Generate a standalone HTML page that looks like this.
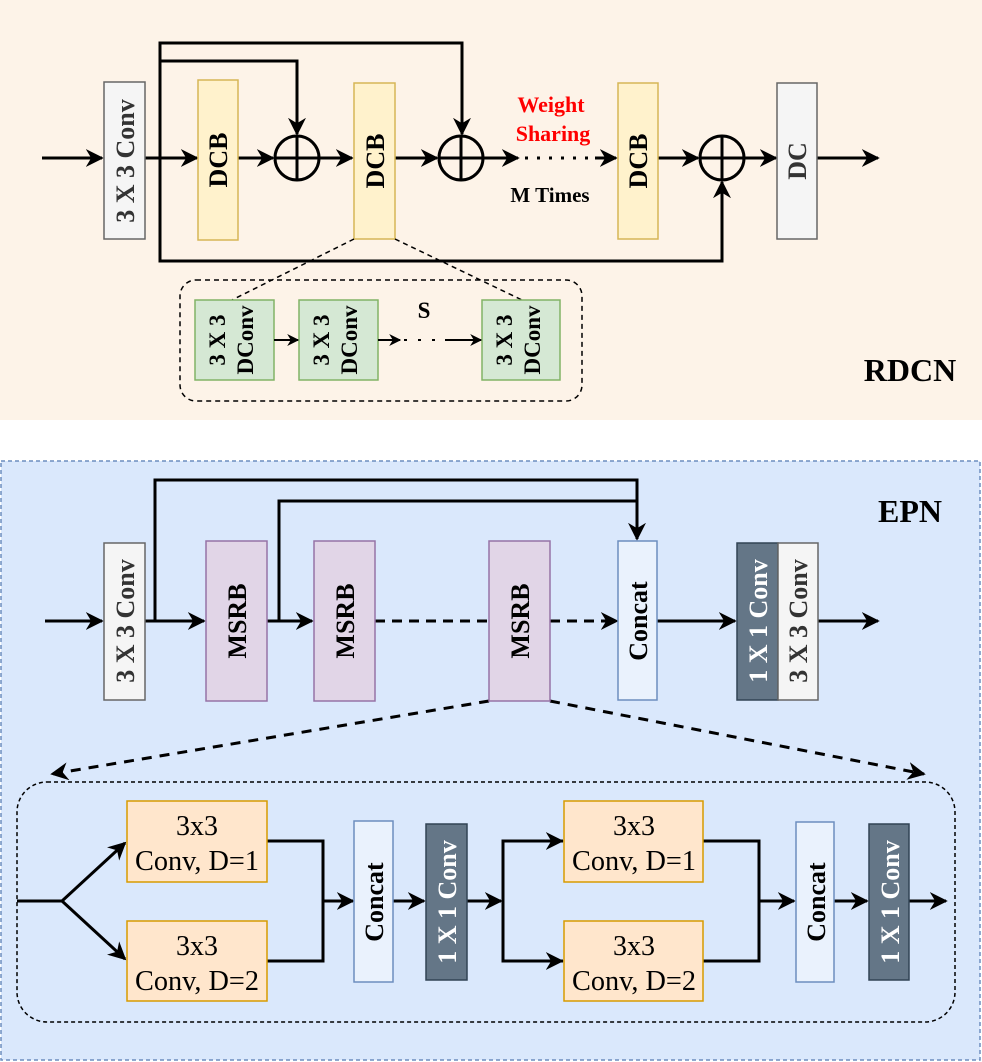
<!DOCTYPE html>
<html><head><meta charset="utf-8"><style>
html,body{margin:0;padding:0;background:#fff;}
svg{display:block;font-family:"Liberation Serif",serif;}
</style></head><body>
<svg width="982" height="1062" viewBox="0 0 982 1062" xmlns="http://www.w3.org/2000/svg">
<defs>
<marker id="s" viewBox="0 0 10 10" refX="9" refY="5" markerWidth="12" markerHeight="12" markerUnits="userSpaceOnUse" orient="auto">
<path d="M0,0 L10,5 L0,10 L3,5 Z" fill="#000"/>
</marker>
<marker id="b" viewBox="0 0 10 10" refX="9" refY="5" markerWidth="18" markerHeight="18" markerUnits="userSpaceOnUse" orient="auto">
<path d="M0,0 L10,5 L0,10 L3,5 Z" fill="#000"/>
</marker>
</defs>
<rect x="0" y="0" width="982" height="420" fill="#fdf3e8"/>
<rect x="1" y="461" width="979" height="599" fill="#dae8fc" stroke="#6c8ebf" stroke-width="1.5" stroke-dasharray="4,3"/>

<g stroke="#000" stroke-width="3" fill="none">
<line x1="42" y1="158" x2="102" y2="158" marker-end="url(#b)"/>
<line x1="145" y1="158" x2="197" y2="158" marker-end="url(#b)"/>
<line x1="238" y1="158" x2="273" y2="158" marker-end="url(#b)"/>
<line x1="319" y1="158" x2="352" y2="158" marker-end="url(#b)"/>
<line x1="395" y1="158" x2="437" y2="158" marker-end="url(#b)"/>
<line x1="483" y1="158" x2="518" y2="158" marker-end="url(#b)"/>
<line x1="525" y1="158" x2="590" y2="158" stroke-dasharray="3,9"/>
<line x1="595" y1="158" x2="616" y2="158" marker-end="url(#b)"/>
<line x1="658" y1="158" x2="698" y2="158" marker-end="url(#b)"/>
<line x1="744" y1="158" x2="776" y2="158" marker-end="url(#b)"/>
<line x1="817" y1="158" x2="878" y2="158" marker-end="url(#b)"/>
<polyline points="160,158 160,43 462,43 462,134" marker-end="url(#b)"/>
<polyline points="160,61 297,61 297,134" marker-end="url(#b)"/>
<polyline points="160,158 160,261 722,261 722,182" marker-end="url(#b)"/>
<circle cx="297" cy="158" r="22"/>
<line x1="275" y1="158" x2="319" y2="158"/><line x1="297" y1="136" x2="297" y2="180"/>
<circle cx="461" cy="158" r="22"/>
<line x1="439" y1="158" x2="483" y2="158"/><line x1="461" y1="136" x2="461" y2="180"/>
<circle cx="722" cy="158" r="22"/>
<line x1="700" y1="158" x2="744" y2="158"/><line x1="722" y1="136" x2="722" y2="180"/>
</g>
<rect x="104" y="82" width="41" height="157" fill="#f5f5f5" stroke="#666" stroke-width="1.5"/>
<rect x="198" y="80" width="40" height="160" fill="#fff2cc" stroke="#d6b656" stroke-width="1.5"/>
<rect x="354" y="83" width="41" height="156" fill="#fff2cc" stroke="#d6b656" stroke-width="1.5"/>
<rect x="618" y="83" width="40" height="156" fill="#fff2cc" stroke="#d6b656" stroke-width="1.5"/>
<rect x="777" y="83" width="40" height="156" fill="#f5f5f5" stroke="#666" stroke-width="1.5"/>
<g font-weight="bold" font-size="26" text-anchor="middle">
<text transform="translate(134,161) rotate(-90)" fill="#333">3 X 3 Conv</text>
<text transform="translate(227,160) rotate(-90)">DCB</text>
<text transform="translate(384,161) rotate(-90)">DCB</text>
<text transform="translate(647,161) rotate(-90)">DCB</text>
<text transform="translate(806,161) rotate(-90)" fill="#333">DC</text>
</g>
<text x="551" y="112" font-size="22" font-weight="bold" fill="#f00" text-anchor="middle">Weight</text>
<text x="553" y="141" font-size="22" font-weight="bold" fill="#f00" text-anchor="middle">Sharing</text>
<text x="550" y="202" font-size="21" font-weight="bold" text-anchor="middle">M Times</text>
<text x="910" y="381" font-size="32" font-weight="bold" text-anchor="middle">RDCN</text>
<g stroke="#000" stroke-width="1.5" fill="none" stroke-dasharray="5,4">
<line x1="354" y1="239" x2="232" y2="300"/>
<line x1="395" y1="239" x2="522" y2="300"/>
<rect x="180" y="280" width="402" height="121" rx="16"/>
</g>
<rect x="195" y="300" width="79" height="80" fill="#d5e8d4" stroke="#82b366" stroke-width="1.5"/>
<rect x="299" y="300" width="79" height="80" fill="#d5e8d4" stroke="#82b366" stroke-width="1.5"/>
<rect x="482" y="300" width="78" height="80" fill="#d5e8d4" stroke="#82b366" stroke-width="1.5"/>
<g stroke="#000" stroke-width="2" fill="none">
<line x1="274" y1="340" x2="298" y2="340" marker-end="url(#s)"/>
<line x1="378" y1="340" x2="400" y2="340" marker-end="url(#s)"/>
<line x1="404" y1="340" x2="446" y2="340" stroke-dasharray="3,11"/>
<line x1="445" y1="340" x2="481" y2="340" marker-end="url(#s)"/>
</g>
<g font-weight="bold" font-size="23" text-anchor="middle">
<text transform="translate(225,340) rotate(-90)">3 X 3</text>
<text transform="translate(253,340) rotate(-90)">DConv</text>
<text transform="translate(329,340) rotate(-90)">3 X 3</text>
<text transform="translate(357,340) rotate(-90)">DConv</text>
<text transform="translate(512,340) rotate(-90)">3 X 3</text>
<text transform="translate(540,340) rotate(-90)">DConv</text>
<text x="424" y="318" font-size="23">S</text>
</g>

<g stroke="#000" stroke-width="3" fill="none">
<line x1="45" y1="621" x2="102" y2="621" marker-end="url(#b)"/>
<line x1="145" y1="621" x2="204" y2="621" marker-end="url(#b)"/>
<line x1="267" y1="621" x2="312" y2="621" marker-end="url(#b)"/>
<line x1="375" y1="621" x2="489" y2="621" stroke-dasharray="10,7"/>
<line x1="550" y1="621" x2="617" y2="621" stroke-dasharray="10,7" marker-end="url(#b)"/>
<line x1="657" y1="621" x2="735" y2="621" marker-end="url(#b)"/>
<line x1="817" y1="621" x2="878" y2="621" marker-end="url(#b)"/>
<polyline points="155,621 155,480 637,480 637,539" marker-end="url(#b)"/>
<polyline points="279,621 279,501 637,501"/>
<line x1="489" y1="701" x2="52" y2="774" stroke-dasharray="10,8" marker-end="url(#b)"/>
<line x1="550" y1="701" x2="924" y2="774" stroke-dasharray="10,8" marker-end="url(#b)"/>
</g>
<rect x="104" y="543" width="41" height="157" fill="#f5f5f5" stroke="#666" stroke-width="1.5"/>
<rect x="206" y="541" width="61" height="160" fill="#e1d5e7" stroke="#9673a6" stroke-width="1.5"/>
<rect x="314" y="541" width="61" height="160" fill="#e1d5e7" stroke="#9673a6" stroke-width="1.5"/>
<rect x="489" y="541" width="61" height="160" fill="#e1d5e7" stroke="#9673a6" stroke-width="1.5"/>
<rect x="618" y="541" width="39" height="159" fill="#eaf2fd" stroke="#6c8ebf" stroke-width="1.5"/>
<rect x="737" y="543" width="41" height="157" fill="#647687" stroke="#314354" stroke-width="1.5"/>
<rect x="778" y="543" width="40" height="157" fill="#f5f5f5" stroke="#666" stroke-width="1.5"/>
<g font-weight="bold" font-size="26" text-anchor="middle">
<text transform="translate(134,621) rotate(-90)" fill="#333">3 X 3 Conv</text>
<text transform="translate(246,621) rotate(-90)">MSRB</text>
<text transform="translate(354,621) rotate(-90)">MSRB</text>
<text transform="translate(529,621) rotate(-90)">MSRB</text>
<text transform="translate(647,621) rotate(-90)">Concat</text>
<text transform="translate(767,621) rotate(-90)" fill="#fff">1 X 1 Conv</text>
<text transform="translate(807,621) rotate(-90)" fill="#333">3 X 3 Conv</text>
</g>
<text x="910" y="522" font-size="32" font-weight="bold" text-anchor="middle">EPN</text>

<rect x="17" y="782" width="938" height="240" rx="30" fill="none" stroke="#000" stroke-width="1.5" stroke-dasharray="4,3"/>
<g stroke="#000" stroke-width="3" fill="none">
<line x1="17" y1="901" x2="62" y2="901"/>
<line x1="62" y1="901" x2="125" y2="843" marker-end="url(#b)"/>
<line x1="62" y1="901" x2="125" y2="959" marker-end="url(#b)"/>
<polyline points="267,841 323,841 323,961 267,961"/>
<line x1="323" y1="901" x2="353" y2="901" marker-end="url(#b)"/>
<line x1="393" y1="901" x2="424" y2="901" marker-end="url(#b)"/>
<line x1="467" y1="901" x2="501" y2="901" marker-end="url(#b)"/>
<polyline points="563,841 503,841 503,961 563,961"/>
<line x1="520" y1="841" x2="562" y2="841" marker-end="url(#b)"/>
<line x1="520" y1="961" x2="562" y2="961" marker-end="url(#b)"/>
<polyline points="703,841 759,841 759,961 703,961"/>
<line x1="759" y1="901" x2="794" y2="901" marker-end="url(#b)"/>
<line x1="834" y1="901" x2="867" y2="901" marker-end="url(#b)"/>
<line x1="909" y1="901" x2="946" y2="901" marker-end="url(#b)"/>
</g>
<rect x="127" y="801" width="140" height="81" fill="#ffe6cc" stroke="#d79b00" stroke-width="1.5"/>
<rect x="127" y="921" width="140" height="80" fill="#ffe6cc" stroke="#d79b00" stroke-width="1.5"/>
<rect x="564" y="801" width="139" height="81" fill="#ffe6cc" stroke="#d79b00" stroke-width="1.5"/>
<rect x="564" y="921" width="139" height="80" fill="#ffe6cc" stroke="#d79b00" stroke-width="1.5"/>
<rect x="354" y="821" width="39" height="161" fill="#eaf2fd" stroke="#6c8ebf" stroke-width="1.5"/>
<rect x="426" y="824" width="41" height="156" fill="#647687" stroke="#314354" stroke-width="1.5"/>
<rect x="796" y="822" width="38" height="160" fill="#eaf2fd" stroke="#6c8ebf" stroke-width="1.5"/>
<rect x="869" y="824" width="40" height="156" fill="#647687" stroke="#314354" stroke-width="1.5"/>
<g font-size="28" text-anchor="middle">
<text x="197" y="835" textLength="42" lengthAdjust="spacingAndGlyphs">3x3</text>
<text x="197" y="870" textLength="124" lengthAdjust="spacingAndGlyphs">Conv, D=1</text>
<text x="197" y="955" textLength="42" lengthAdjust="spacingAndGlyphs">3x3</text>
<text x="197" y="990" textLength="124" lengthAdjust="spacingAndGlyphs">Conv, D=2</text>
<text x="634" y="835" textLength="42" lengthAdjust="spacingAndGlyphs">3x3</text>
<text x="634" y="870" textLength="124" lengthAdjust="spacingAndGlyphs">Conv, D=1</text>
<text x="634" y="955" textLength="42" lengthAdjust="spacingAndGlyphs">3x3</text>
<text x="634" y="990" textLength="124" lengthAdjust="spacingAndGlyphs">Conv, D=2</text>
</g>
<g font-weight="bold" font-size="26" text-anchor="middle">
<text transform="translate(383,902) rotate(-90)">Concat</text>
<text transform="translate(456,902) rotate(-90)" fill="#fff">1 X 1 Conv</text>
<text transform="translate(825,902) rotate(-90)">Concat</text>
<text transform="translate(899,902) rotate(-90)" fill="#fff">1 X 1 Conv</text>
</g>
</svg>
</body></html>
